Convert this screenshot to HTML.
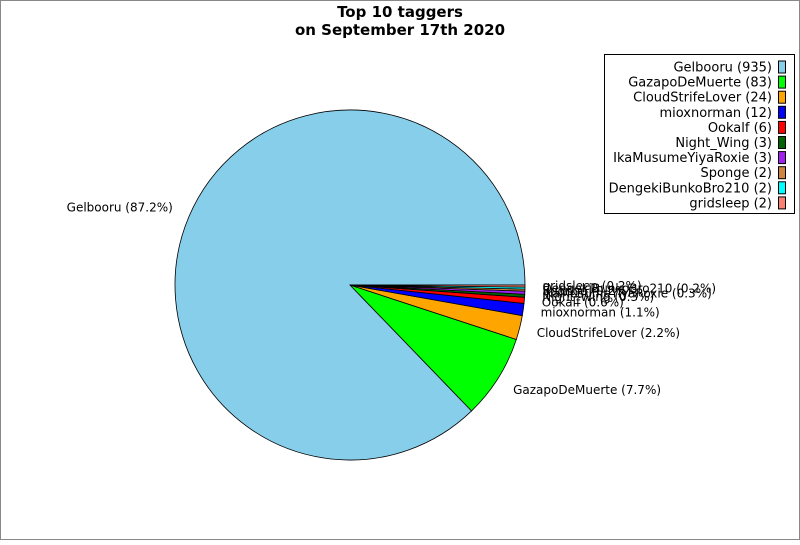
<!DOCTYPE html>
<html><head><meta charset="utf-8"><style>
body{margin:0;background:#fff;}
svg text{font-family:"DejaVu Sans","Liberation Sans",sans-serif;}
</style></head><body>
<svg id="s" width="800" height="540" xmlns="http://www.w3.org/2000/svg">
<rect x="0.5" y="0.5" width="799" height="539" fill="#fff" stroke="#888"/>
<text x="400" y="17" text-anchor="middle" font-size="15" font-weight="bold">Top 10 taggers</text>
<text x="400" y="35" text-anchor="middle" font-size="15" font-weight="bold">on September 17th 2020</text>
<g id="pie"></g>
<rect x="604.5" y="54.5" width="190" height="159" fill="#fff" stroke="#000"/>
<g id="leg" font-size="13"></g>
</svg>
<script>
var d=[["Gelbooru",935,"#87ceeb"],["GazapoDeMuerte",83,"#00ff00"],["CloudStrifeLover",24,"#ffa500"],["mioxnorman",12,"#0000ff"],["Ookalf",6,"#ff0000"],["Night_Wing",3,"#006400"],["IkaMusumeYiyaRoxie",3,"#a020f0"],["Sponge",2,"#cd853f"],["DengekiBunkoBro210",2,"#00ffff"],["gridsleep",2,"#fa8072"]];
var T=0;d.forEach(function(e){T+=e[1]});
var cx=350,cy=285,R=175,a=0,p="",l="",ns="";
d.forEach(function(e,i){
 var f=e[1]/T,a2=a+f*2*Math.PI;
 var x1=cx+R*Math.cos(a),y1=cy-R*Math.sin(a),x2=cx+R*Math.cos(a2),y2=cy-R*Math.sin(a2);
 p+='<path d="M'+cx+','+cy+' L'+x1+','+y1+' A'+R+','+R+' 0 '+(f>0.5?1:0)+' 0 '+x2+','+y2+' Z" fill="'+e[2]+'" stroke="#000" stroke-width="0.8"/>';
 var m=(a+a2)/2,lx=cx+1.1*R*Math.cos(m),ly=cy-1.13*R*Math.sin(m);
 l='<text x="'+lx+'" y="'+(ly+4)+'" font-size="12" text-anchor="'+(Math.cos(m)<0?'end':'start')+'">'+e[0]+' ('+(f*100).toFixed(1)+'%)</text>'+l;
 var y=67+i*15.1;
 ns+='<text x="772" y="'+(y+4.5)+'" text-anchor="end">'+e[0]+' ('+e[1]+')</text><rect x="778.5" y="'+(y-6)+'" width="7" height="12" fill="'+e[2]+'" stroke="#000"/>';
 a=a2;
});
document.getElementById("pie").innerHTML=p+l;
document.getElementById("leg").innerHTML=ns;
</script>
</body></html>
